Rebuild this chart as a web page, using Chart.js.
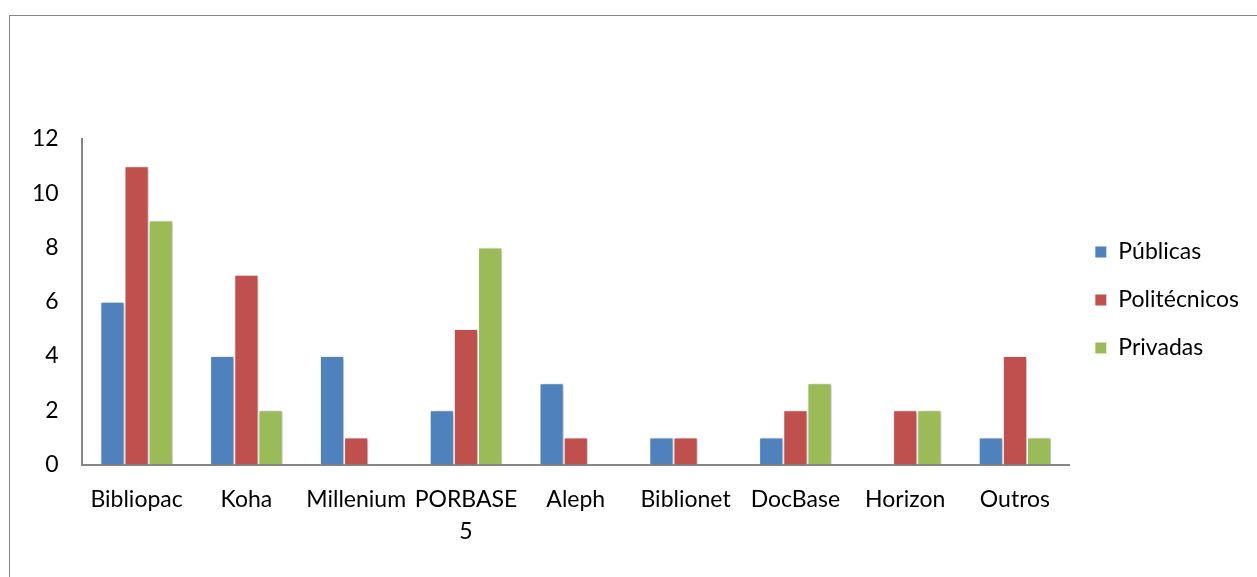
<!DOCTYPE html>
<html>
<head>
<meta charset="utf-8">
<script src="https://cdn.jsdelivr.net/npm/chart.js@4.4.0/dist/chart.umd.min.js"></script>
<style>
  html, body { margin: 0; padding: 0; background: #fff; overflow: hidden; }
  #wrap { position: relative; width: 1257px; height: 577px; }
  #frame { position: absolute; left: 9px; top: 15px; width: 1260px; height: 600px; border: 1px solid #868686; box-sizing: border-box; }
  canvas { position: absolute; left: 0; top: 0; }
</style>
</head>
<body>
<div id="wrap">
  <div id="frame"></div>
  <canvas id="myChart" width="1257" height="577"></canvas>
</div>
<script>
let sistemas = ["Bibliopac", "Koha", "Millenium", ["PORBASE", "5"], "Aleph", "Biblionet", "DocBase", "Horizon", "Outros"];
let publicas = [6, 4, 4, 2, 3, 1, 1, 0, 1];
let politecnicos = [11, 7, 1, 5, 1, 1, 2, 2, 4];
let privadas = [9, 2, 0, 8, 0, 0, 3, 2, 1];

// soft shadow like the excel bars
const barShadow = {
    id: "barShadow",
    beforeDatasetsDraw(chart) {
        let ctx = chart.ctx;
        ctx.save();
        ctx.shadowColor = "rgba(0, 0, 0, 0.28)";
        ctx.shadowBlur = 4;
        ctx.shadowOffsetX = 2;
        ctx.shadowOffsetY = 1;
    },
    afterDatasetsDraw(chart) {
        chart.ctx.restore();
    }
};

// legend sits a bit higher than the default centre
const legendUp = {
    id: "legendUp",
    afterLayout(chart) {
        if (chart.legend) {
            chart.legend.bottom -= 98;
        }
    }
};

Chart.defaults.font.family = "Lato, 'Open Sans', sans-serif";
Chart.defaults.font.size = 23;
Chart.defaults.color = "#000";

var ctx = document.getElementById("myChart").getContext("2d");
var myChart = new Chart(ctx, {
    type: "bar",
    data: {
        labels: sistemas,
        datasets: [{
            label: "Públicas",
            data: publicas,
            backgroundColor: "#4F81BD",
            borderColor: "#ffffff",
            borderWidth: 1,
        }, {
            label: "Politécnicos",
            data: politecnicos,
            backgroundColor: "#C0504D",
            borderColor: "#ffffff",
            borderWidth: 1,
        }, {
            label: "Privadas",
            data: privadas,
            backgroundColor: "#9BBB59",
            borderColor: "#ffffff",
            borderWidth: 1,
        }, ],
    },
    options: {
        responsive: false,
        animation: false,
        layout: {
            padding: { top: 139, left: 17, right: 8, bottom: 18 }
        },
        datasets: {
            bar: { categoryPercentage: 0.66, barPercentage: 1.0 }
        },
        scales: {
            x: {
                grid: { display: false },
                border: { display: true, color: "#868686", width: 2 },
                ticks: { padding: 11, maxRotation: 0, autoSkip: false, font: { lineHeight: 1.4 } }
            },
            y: {
                min: 0,
                max: 12,
                grid: { display: false },
                border: { display: true, color: "#868686", width: 2 },
                ticks: { stepSize: 2, padding: 15 }
            }
        },
        plugins: {
            legend: {
                position: "right",
                labels: {
                    boxWidth: 12,
                    boxHeight: 12,
                    padding: 25,
                    font: { size: 23 }
                }
            },
            tooltip: { enabled: false }
        }
    },
    plugins: [barShadow, legendUp]
});
</script>
</body>
</html>
